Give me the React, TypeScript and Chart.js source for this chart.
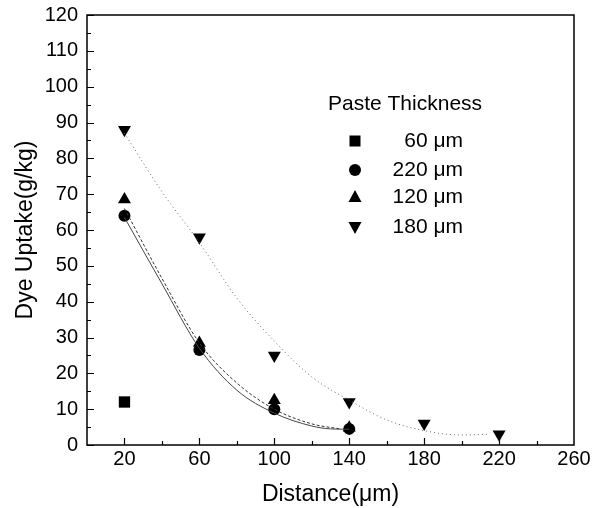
import React, { useEffect, useRef } from 'react';
import { Chart, registerables } from 'chart.js';

Chart.register(...registerables);

// ---- Data ----
const X_TICKS = [20, 60, 100, 140, 180, 220, 260];
const Y_MIN = 0;
const Y_MAX = 120;
const Y_STEP = 10;

const LEGEND_TITLE = 'Paste Thickness';

const dist60 = [20];
const uptake60 = [12];

const dist220 = [20, 60, 100, 140];
const uptake220 = [64, 26.5, 10, 4.5];

const dist120 = [20, 60, 100, 140];
const uptake120 = [68.5, 28.5, 12.5, 4.8];

const dist180 = [20, 60, 100, 140, 180, 220];
const uptake180 = [88, 58, 25, 12, 6, 3];

// fitted curves
const fit220X = [20, 40, 60, 80, 100, 120, 130, 140];
const fit220Y = [63.5, 45, 27, 15.3, 8.9, 5.3, 4.5, 4.4];

const fit120X = [20, 40, 60, 80, 100, 120, 135];
const fit120Y = [66, 46.5, 28.5, 17.3, 10, 5.9, 4.5];

const fit180X = [20, 40, 60, 80, 100, 120, 140, 160, 180, 200, 215];
const fit180Y = [87, 70.7, 56.5, 41, 29, 19, 12.5, 7, 4, 2.8, 3];

const LEGEND_LABELS = ['60 μm', '220 μm', '120 μm', '180 μm'];

const FONT = 'Arial, "Liberation Sans", sans-serif';

const zip = (xs: number[], ys: number[]) => xs.map((x, i) => ({ x, y: ys[i] }));

export default function App() {
  const ref = useRef<HTMLCanvasElement | null>(null);

  useEffect(() => {
    document.body.style.margin = '0';
    const canvas = ref.current;
    if (!canvas) return;

    const framePlugin = {
      id: 'frameTicks',
      afterDraw(chart: any) {
        const { ctx, chartArea, scales } = chart;
        const xs = scales.x;
        const ys = scales.y;
        ctx.save();
        ctx.strokeStyle = '#000';
        ctx.lineWidth = 1.5;
        ctx.strokeRect(chartArea.left, chartArea.top, chartArea.right - chartArea.left, chartArea.bottom - chartArea.top);
        ctx.lineWidth = 1.2;
        ctx.beginPath();
        for (let v = Y_MIN; v <= Y_MAX; v += Y_STEP / 2) {
          const y = Math.round(ys.getPixelForValue(v)) + 0.5;
          const len = v % Y_STEP === 0 ? 7 : 4;
          ctx.moveTo(chartArea.left, y);
          ctx.lineTo(chartArea.left + len, y);
        }
        for (let v = 20; v < 260; v += 20) {
          const x = Math.round(xs.getPixelForValue(v)) + 0.5;
          const len = X_TICKS.includes(v) ? 7 : 4;
          ctx.moveTo(x, chartArea.bottom);
          ctx.lineTo(x, chartArea.bottom - len);
        }
        ctx.stroke();
        ctx.restore();
      },
    };

    const legendPlugin = {
      id: 'customLegend',
      afterDraw(chart: any) {
        const { ctx, chartArea } = chart;
        const left = chartArea.left;
        const top = chartArea.top;
        ctx.save();
        ctx.fillStyle = '#000';
        ctx.font = `21px ${FONT}`;
        ctx.textBaseline = 'middle';
        ctx.textAlign = 'left';
        ctx.fillText(LEGEND_TITLE, left + 241, top + 89);
        const rows = [126, 155, 182, 212];
        const mx = left + 268;
        const shapes = ['rect', 'circle', 'tri', 'itri'];
        rows.forEach((ry, i) => {
          const y = top + ry;
          ctx.beginPath();
          const s = shapes[i];
          if (s === 'rect') {
            ctx.rect(mx - 5.5, y - 5.5, 11, 11);
          } else if (s === 'circle') {
            ctx.arc(mx, y, 6, 0, Math.PI * 2);
          } else if (s === 'tri') {
            ctx.moveTo(mx, y - 7);
            ctx.lineTo(mx + 6.5, y + 5);
            ctx.lineTo(mx - 6.5, y + 5);
            ctx.closePath();
          } else {
            ctx.moveTo(mx, y + 7);
            ctx.lineTo(mx + 6.5, y - 5);
            ctx.lineTo(mx - 6.5, y - 5);
            ctx.closePath();
          }
          ctx.fill();
          ctx.textAlign = 'right';
          ctx.fillText(LEGEND_LABELS[i], left + 376, y);
        });
        ctx.restore();
      },
    };

    const chart = new Chart(canvas, {
      type: 'scatter',
      data: {
        datasets: [
          {
            label: 'fit 220',
            data: zip(fit220X, fit220Y),
            showLine: true,
            borderColor: '#444',
            borderWidth: 1,
            pointRadius: 0,
            cubicInterpolationMode: 'monotone',
          },
          {
            label: 'fit 120',
            data: zip(fit120X, fit120Y),
            showLine: true,
            borderColor: '#333',
            borderWidth: 1,
            borderDash: [3, 2],
            pointRadius: 0,
            cubicInterpolationMode: 'monotone',
          },
          {
            label: 'fit 180',
            data: zip(fit180X, fit180Y),
            showLine: true,
            borderColor: '#666',
            borderWidth: 1,
            borderDash: [1, 3],
            pointRadius: 0,
            cubicInterpolationMode: 'monotone',
          },
          {
            label: LEGEND_LABELS[0],
            data: zip(dist60, uptake60),
            pointStyle: 'rect',
            pointRadius: 8,
            backgroundColor: '#000',
            borderColor: '#000',
            borderWidth: 0,
          },
          {
            label: LEGEND_LABELS[2],
            data: zip(dist120, uptake120),
            pointStyle: 'triangle',
            pointRadius: 7.5,
            backgroundColor: '#000',
            borderColor: '#000',
            borderWidth: 0,
          },
          {
            label: LEGEND_LABELS[1],
            data: zip(dist220, uptake220),
            pointStyle: 'circle',
            pointRadius: 6,
            backgroundColor: '#000',
            borderColor: '#000',
            borderWidth: 0,
          },
          {
            label: LEGEND_LABELS[3],
            data: zip(dist180, uptake180),
            pointStyle: 'triangle',
            rotation: 180,
            pointRadius: 7.5,
            backgroundColor: '#000',
            borderColor: '#000',
            borderWidth: 0,
          },
        ],
      },
      options: {
        animation: false,
        responsive: false,
        devicePixelRatio: 1,
        layout: { padding: { top: 15, right: 26, left: 0, bottom: 0 } },
        plugins: {
          legend: { display: false },
          tooltip: { enabled: false },
        },
        scales: {
          x: {
            type: 'linear',
            min: 0,
            max: 260,
            afterBuildTicks: (axis: any) => {
              axis.ticks = X_TICKS.map((v) => ({ value: v }));
            },
            afterFit: (scale: any) => {
              scale.height = 63;
            },
            grid: { display: false },
            border: { display: false },
            ticks: {
              color: '#000',
              font: { family: FONT, size: 20 },
              padding: -6,
              maxRotation: 0,
            },
            title: {
              display: true,
              text: 'Distance(μm)',
              color: '#000',
              font: { family: FONT, size: 23 },
              padding: { top: -3, bottom: 0 },
            },
          },
          y: {
            type: 'linear',
            min: Y_MIN,
            max: Y_MAX,
            afterFit: (scale: any) => {
              scale.width = 87;
            },
            grid: { display: false },
            border: { display: false },
            ticks: {
              stepSize: Y_STEP,
              color: '#000',
              font: { family: FONT, size: 20 },
              padding: 1,
            },
            title: {
              display: true,
              text: 'Dye Uptake(g/kg)',
              color: '#000',
              font: { family: FONT, size: 23 },
              padding: { top: 12, bottom: 0 },
            },
          },
        },
      },
      plugins: [framePlugin, legendPlugin],
    } as any);

    return () => chart.destroy();
  }, []);

  return (
    <div style={{ width: 600, height: 508, background: '#fff' }}>
      <canvas ref={ref} width={600} height={508} style={{ display: 'block', width: 600, height: 508 }} />
    </div>
  );
}
